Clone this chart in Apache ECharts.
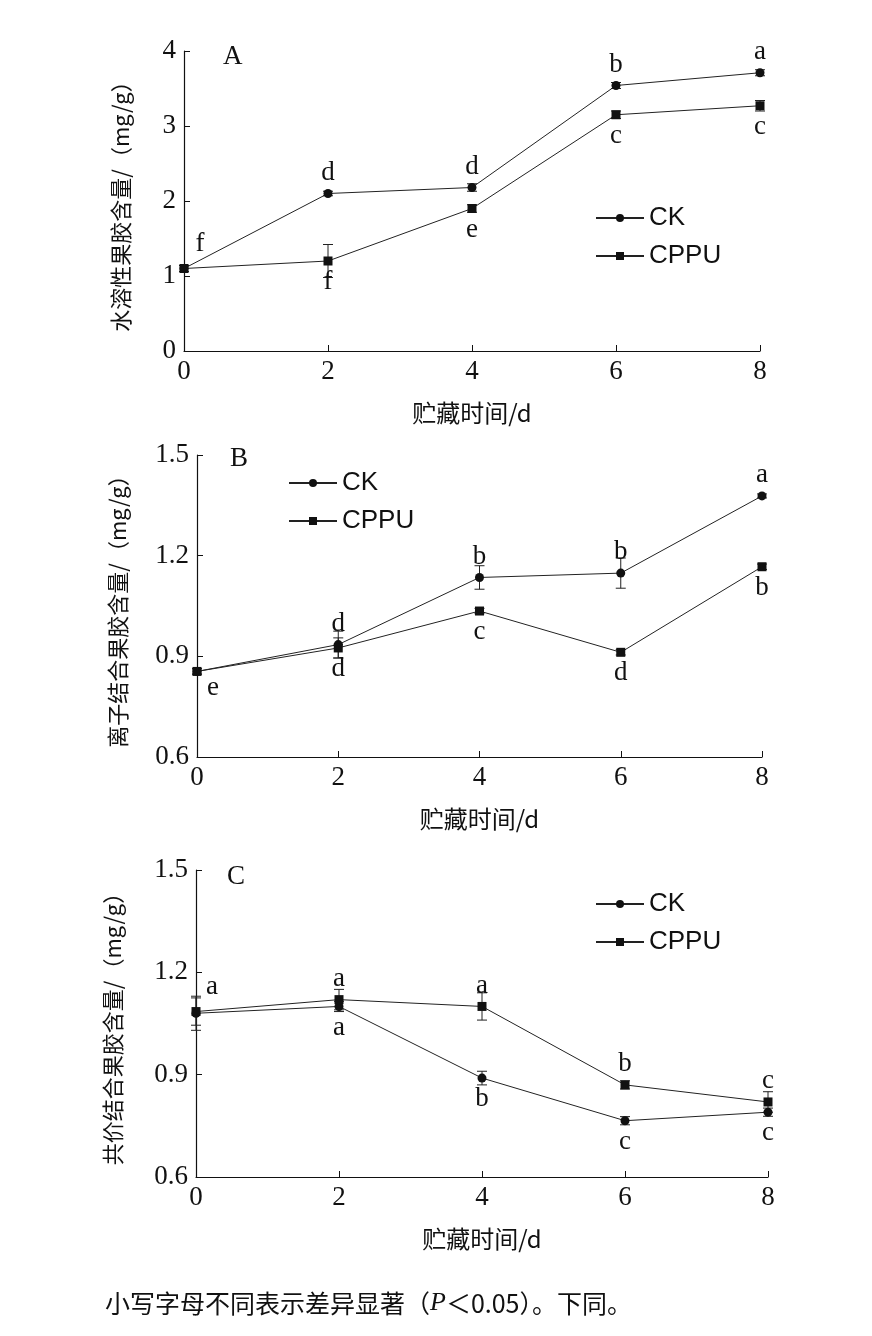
<!DOCTYPE html>
<html><head><meta charset="utf-8">
<script src="https://cdn.jsdelivr.net/npm/echarts@6/dist/echarts.min.js"></script>
<style>body{margin:0;background:#fff}#c{width:872px;height:1336px}</style>
</head><body><div id="c"></div>
<script>
const days = [0, 2, 4, 6, 8];
// panel A: water soluble pectin
const ckA = [1.1, 2.1, 2.18, 3.54, 3.71], ckAErr = [0.04, 0.03, 0.05, 0.04, 0.04];
const cpA = [1.1, 1.2, 1.9, 3.15, 3.27], cpAErr = [0.04, 0.22, 0.05, 0.05, 0.07];
const lettersA = [[0, 1.1, 'f', 'ur'], [2, 2.1, 'd', 'u'], [4, 2.18, 'd', 'u'], [6, 3.54, 'b', 'u'], [8, 3.71, 'a', 'u'],
  [2, 1.2, 'f', 'd'], [4, 1.9, 'e', 'd'], [6, 3.15, 'c', 'd'], [8, 3.27, 'c', 'd']];
// panel B: ionic bound pectin
const ckB = [0.855, 0.935, 1.135, 1.148, 1.378], ckBErr = [0.008, 0.04, 0.035, 0.045, 0.006];
const cpB = [0.855, 0.925, 1.035, 0.912, 1.167], cpBErr = [0.008, 0.03, 0.008, 0.008, 0.008];
const lettersB = [[0, 0.855, 'e', 'dr'], [2, 0.935, 'd', 'u'], [4, 1.135, 'b', 'u'], [6, 1.148, 'b', 'u'], [8, 1.378, 'a', 'u'],
  [2, 0.925, 'd', 'd'], [4, 1.035, 'c', 'd'], [6, 0.912, 'd', 'd'], [8, 1.167, 'b', 'd']];
// panel C: covalent bound pectin
const ckC = [1.08, 1.1, 0.89, 0.765, 0.79], ckCErr = [0.05, 0.015, 0.02, 0.012, 0.012];
const cpC = [1.085, 1.12, 1.1, 0.87, 0.82], cpCErr = [0.04, 0.03, 0.04, 0.012, 0.03];
const lettersC = [[0, 1.085, 'a', 'ur'], [2, 1.12, 'a', 'u'], [4, 1.1, 'a', 'u'], [6, 0.87, 'b', 'u'], [8, 0.82, 'c', 'u'],
  [2, 1.1, 'a', 'd'], [4, 0.89, 'b', 'd'], [6, 0.765, 'c', 'd'], [8, 0.79, 'c', 'd']];

const serif = 'Liberation Serif';
const cjk = 'Noto Sans CJK SC';
const panels = [
  {grid: {left: 184, top: 51, width: 576, height: 300}, min: 0, max: 4, interval: 1, dec: 0, name: '水溶性果胶含量/（mg/g）', gap: 52,
    ck: ckA, ckE: ckAErr, cp: cpA, cpE: cpAErr, letters: lettersA, tag: 'A', tagPos: [233, 58], legend: [590, 200]},
  {grid: {left: 197, top: 455, width: 565, height: 302}, min: 0.6, max: 1.5, interval: 0.3, dec: 1, name: '离子结合果胶含量/（mg/g）', gap: 68,
    ck: ckB, ckE: ckBErr, cp: cpB, cpE: cpBErr, letters: lettersB, tag: 'B', tagPos: [240, 460], legend: [283, 465]},
  {grid: {left: 196, top: 870, width: 572, height: 307}, min: 0.6, max: 1.5, interval: 0.3, dec: 1, name: '共价结合果胶含量/（mg/g）', gap: 72,
    ck: ckC, ckE: ckCErr, cp: cpC, cpE: cpCErr, letters: lettersC, tag: 'C', tagPos: [237, 878], legend: [590, 886]}
];

const chart = echarts.init(document.getElementById('c'));
const grid = [], xAxis = [], yAxis = [], series = [], legend = [], graphic = [];

function errBars(vals, errs, i) {
  return {type: 'custom', xAxisIndex: i, yAxisIndex: i, silent: true, z: 5,
    data: days.map((d, k) => [d, vals[k] - errs[k], vals[k] + errs[k]]),
    renderItem: (p, api) => {
      const lo = api.coord([api.value(0), api.value(1)]), hi = api.coord([api.value(0), api.value(2)]);
      const st = {stroke: '#222', lineWidth: 1};
      return {type: 'group', children: [
        {type: 'line', shape: {x1: lo[0], y1: lo[1], x2: hi[0], y2: hi[1]}, style: st},
        {type: 'line', shape: {x1: lo[0] - 5, y1: lo[1], x2: lo[0] + 5, y2: lo[1]}, style: st},
        {type: 'line', shape: {x1: hi[0] - 5, y1: hi[1], x2: hi[0] + 5, y2: hi[1]}, style: st}]};
    }};
}

panels.forEach((P, i) => {
  grid.push(P.grid);
  xAxis.push({gridIndex: i, type: 'value', min: 0, max: 8, interval: 2, name: '贮藏时间/d', nameLocation: 'middle', nameGap: 50,
    nameTextStyle: {fontFamily: cjk, fontSize: 24, color: '#111'},
    axisLine: {lineStyle: {color: '#111', width: 1.2}}, axisTick: {inside: true, length: 6, lineStyle: {color: '#111'}},
    axisLabel: {fontFamily: serif, fontSize: 27, color: '#111', margin: 7}, splitLine: {show: false}});
  yAxis.push({gridIndex: i, type: 'value', min: P.min, max: P.max, interval: P.interval, name: P.name, nameLocation: 'middle', nameGap: P.gap,
    nameTextStyle: {fontFamily: cjk, fontSize: 22, color: '#111'},
    axisLine: {show: true, lineStyle: {color: '#111', width: 1.2}}, axisTick: {show: true, inside: true, length: 6, lineStyle: {color: '#111'}},
    axisLabel: {fontFamily: serif, fontSize: 27, color: '#111', margin: 8, formatter: v => v.toFixed(P.dec)}, splitLine: {show: false}});
  const line = {color: '#222', width: 1};
  series.push({type: 'line', name: 'CK', xAxisIndex: i, yAxisIndex: i, data: days.map((d, k) => [d, P.ck[k]]),
    symbol: 'circle', symbolSize: 9, lineStyle: line, itemStyle: {color: '#111'}, z: 6});
  series.push({type: 'line', name: 'CPPU', xAxisIndex: i, yAxisIndex: i, data: days.map((d, k) => [d, P.cp[k]]),
    symbol: 'rect', symbolSize: 9, lineStyle: line, itemStyle: {color: '#111'}, z: 6});
  series.push(errBars(P.ck, P.ckE, i), errBars(P.cp, P.cpE, i));
  series.push({type: 'custom', xAxisIndex: i, yAxisIndex: i, silent: true, z: 7, data: P.letters,
    renderItem: (p, api) => {
      const pt = api.coord([api.value(0), api.value(1)]);
      const pos = P.letters[p.dataIndex][3];
      let dx = 0, dy = pos[0] === 'u' ? -21 : 21;
      if (pos.length > 1) { dx = 16; dy = pos[0] === 'u' ? -25 : 16; }
      return {type: 'text', x: pt[0] + dx, y: pt[1] + dy,
        style: {text: P.letters[p.dataIndex][2], fontFamily: serif, fontSize: 27, fill: '#111', align: 'center', verticalAlign: 'middle'}};
    }});
  legend.push({left: P.legend[0], top: P.legend[1], orient: 'vertical', itemGap: 12, itemWidth: 48, itemHeight: 10,
    data: ['CK', 'CPPU'], textStyle: {fontFamily: 'Liberation Sans', fontSize: 26, color: '#111'}});
  graphic.push({type: 'text', left: P.tagPos[0] - 10, top: P.tagPos[1] - 15,
    style: {text: P.tag, fontFamily: serif, fontSize: 27, fill: '#111'}});
});
graphic.push({type: 'text', left: 105, top: 1290,
  style: {text: '小写字母不同表示差异显著（{i|P}＜0.05）。下同。', fontFamily: cjk, fontSize: 25, fill: '#111',
    rich: {i: {fontFamily: serif, fontStyle: 'italic', fontSize: 26}}}});

chart.setOption({animation: false, grid, xAxis, yAxis, series, legend, graphic});
</script></body></html>
